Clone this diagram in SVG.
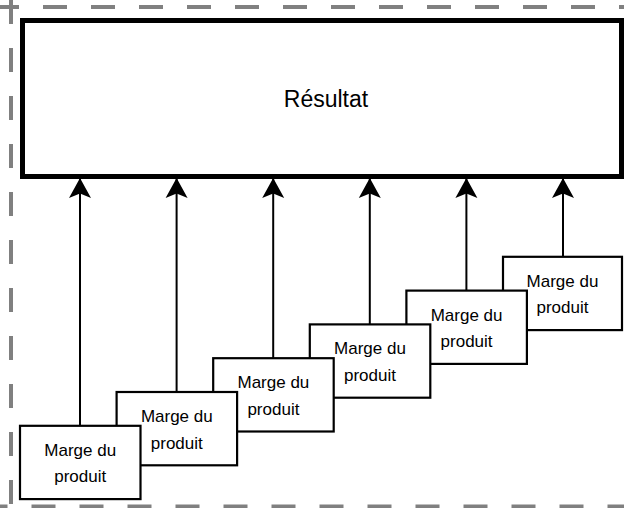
<svg xmlns="http://www.w3.org/2000/svg" width="624" height="508" viewBox="0 0 624 508">
<style>
.frame{stroke:#808080;stroke-width:4;fill:none;stroke-dasharray:24 24}
.main{fill:#fff;stroke:#000;stroke-width:5}
.box{fill:#fff;stroke:#000;stroke-width:2.2}
.lbl{font-family:"Liberation Sans",Arial,sans-serif;font-size:17px;fill:#000;text-anchor:middle}
.title{font-family:"Liberation Sans",Arial,sans-serif;font-size:23px;fill:#000;text-anchor:middle}
.conn{stroke:#000;stroke-width:2;fill:none}
</style>
<defs>
<marker id="ah" viewBox="-21 -12 23 24" refX="0" refY="0" markerWidth="23" markerHeight="24" markerUnits="userSpaceOnUse" orient="auto">
<path d="M0,0 L-20,-11 L-15.5,0 L-20,11 Z" fill="#000"/>
</marker>
</defs>
<g id="frame">
<line class="frame" x1="-5" y1="7" x2="630" y2="7"/>
<line class="frame" x1="11" y1="0" x2="11" y2="508"/>
<line class="frame" x1="-16.5" y1="506.5" x2="630" y2="506.5"/>
</g>
<g id="resultat">
<rect class="main" x="22.5" y="20.5" width="599" height="156"/>
<text class="title" x="326" y="107">Résultat</text>
</g>
<g id="connectors">
<line class="conn" x1="80" y1="426" x2="80" y2="178" marker-end="url(#ah)"/>
<line class="conn" x1="176.6" y1="392" x2="176.6" y2="178" marker-end="url(#ah)"/>
<line class="conn" x1="273.2" y1="358" x2="273.2" y2="178" marker-end="url(#ah)"/>
<line class="conn" x1="369.8" y1="324" x2="369.8" y2="178" marker-end="url(#ah)"/>
<line class="conn" x1="466.4" y1="291" x2="466.4" y2="178" marker-end="url(#ah)"/>
<line class="conn" x1="563" y1="257" x2="563" y2="178" marker-end="url(#ah)"/>
</g>
<g id="marge6">
<rect class="box" x="503" y="256.8" width="119" height="73.3"/>
<text class="lbl"><tspan x="562.5" y="286.7">Marge du</tspan><tspan x="562.5" y="313.3">produit</tspan></text>
</g>
<g id="marge5">
<rect class="box" x="406.4" y="290.6" width="120.5" height="73.3"/>
<text class="lbl"><tspan x="466.6" y="320.5">Marge du</tspan><tspan x="466.6" y="347.1">produit</tspan></text>
</g>
<g id="marge4">
<rect class="box" x="309.8" y="324.4" width="120.5" height="73.3"/>
<text class="lbl"><tspan x="370" y="354.3">Marge du</tspan><tspan x="370" y="380.9">produit</tspan></text>
</g>
<g id="marge3">
<rect class="box" x="213.2" y="358.2" width="120.5" height="73.3"/>
<text class="lbl"><tspan x="273.4" y="388.1">Marge du</tspan><tspan x="273.4" y="414.7">produit</tspan></text>
</g>
<g id="marge2">
<rect class="box" x="116.6" y="392" width="120.5" height="73.3"/>
<text class="lbl"><tspan x="176.8" y="421.9">Marge du</tspan><tspan x="176.8" y="448.5">produit</tspan></text>
</g>
<g id="marge1">
<rect class="box" x="20" y="425.8" width="120.5" height="73.3"/>
<text class="lbl"><tspan x="80.2" y="455.7">Marge du</tspan><tspan x="80.2" y="482.3">produit</tspan></text>
</g>
</svg>
